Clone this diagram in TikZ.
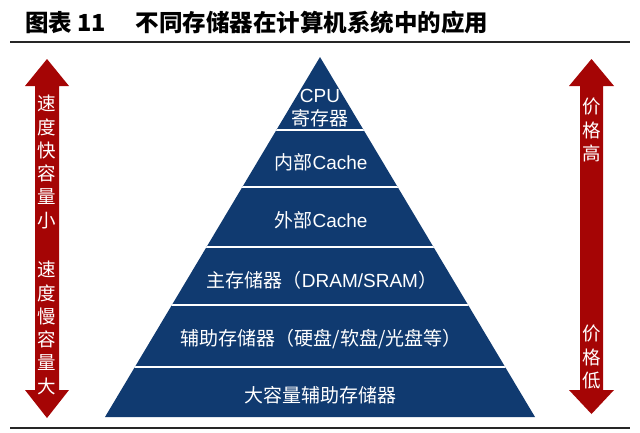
\documentclass[tikz,border=0pt]{standalone}
\usepackage{fontspec}
\setmainfont{Liberation Sans}
\newfontfamily\cjk{Noto Sans CJK SC}
\definecolor{navy}{RGB}{16,58,112}
\definecolor{darkred}{RGB}{165,5,5}
\begin{document}
\begin{tikzpicture}[x=1pt,y=-1pt,
  layertext/.style={text=white,font=\fontsize{19}{21}\selectfont,inner sep=0pt,anchor=center},
  arrowtext/.style={text=white,font=\cjk\fontsize{18.5}{23.3}\selectfont,align=center,inner sep=0pt,anchor=center},
  rule/.style={line width=1.3pt,black!85}]
\useasboundingbox (0,0) rectangle (640,432);
% title
\node[anchor=west,inner sep=0pt,font=\cjk\bfseries\fontsize{23.5}{25}\selectfont] (title) at (25,23) {图表 11\hspace{1.25em}不同存储器在计算机系统中的应用};
\coordinate (r1a) at (10,42); \coordinate (r1b) at (630,42);
\draw[rule] (r1a) -- (r1b);
\coordinate (r2a) at (10,428); \coordinate (r2b) at (630,428);
\draw[rule] (r2a) -- (r2b);
% pyramid
\coordinate (apex) at (320,57);
\coordinate (bl) at (105,417);
\coordinate (br) at (535,417);
\fill[navy] (apex) -- (bl) -- (br) -- cycle;
\begin{scope}
\clip (apex) -- (bl) -- (br) -- cycle;
\foreach \yy in {130,187,247,305,367}{
  \draw[white,line width=2.6pt] (90,\yy) -- (550,\yy);
}
\end{scope}
\node[layertext] (cpu) at (320,96) {CPU};
\node[layertext] (reg) at (320,118) {\cjk 寄存器};
\node[layertext] (l2) at (321,162) {{\cjk 内部}Cache};
\node[layertext] (l3) at (321,220) {{\cjk 外部}Cache};
\node[layertext] (l4) at (322,280) {{\cjk 主存储器（}DRAM/SRAM{\cjk ）}};
\node[layertext] (l5) at (321,339) {\cjk 辅助存储器（硬盘/软盘/光盘等）};
\node[layertext] (l6) at (320,395) {\cjk 大容量辅助存储器};
% left arrow
\fill[darkred] (47,59) -- (69,86) -- (59,86) -- (59,390) -- (69,390) -- (47,418)
  -- (25,390) -- (35,390) -- (35,86) -- (25,86) -- cycle;
\node[arrowtext] (lt1) at (47,162) {速\\度\\快\\容\\量\\小};
\node[arrowtext] (lt2) at (47,328) {速\\度\\慢\\容\\量\\大};
% right arrow
\fill[darkred] (591.5,59) -- (614,86) -- (603,86) -- (603,390) -- (614,390) -- (591.5,414)
  -- (569,390) -- (580,390) -- (580,86) -- (569,86) -- cycle;
\node[arrowtext] (rt1) at (591.5,130) {价\\格\\高};
\node[arrowtext] (rt2) at (591.5,357) {价\\格\\低};
\end{tikzpicture}
\end{document}
